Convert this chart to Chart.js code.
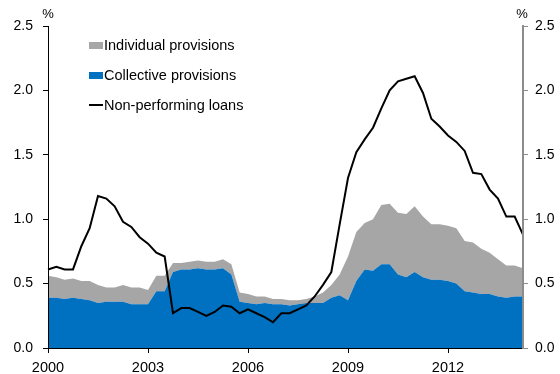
<!DOCTYPE html>
<html>
<head>
<meta charset="utf-8">
<script src="https://cdn.jsdelivr.net/npm/chart.js@4.4.1/dist/chart.umd.min.js"></script>
<style>
    body { margin: 0; background: #fff; }
    #wrap { position: relative; width: 560px; height: 374px; }
    canvas { display: block; }
    .unit { position: absolute; top: 6px; font: 13px "Liberation Sans", Arial, sans-serif; color: #000; transform: translateX(-50%); }
    #legend { position: absolute; left: 89px; top: 30px; font: 14.5px "Liberation Sans", Arial, sans-serif; color: #000; }
    .item { display: flex; align-items: center; height: 30px; white-space: nowrap; }
    .swatch { width: 14px; height: 7px; margin-right: 1px; }
    .swatch.line { height: 2px; }
</style>
</head>
<body>
<div id="wrap">
    <canvas id="chart" width="560" height="374"></canvas>
    <div class="unit" style="left:48px">%</div>
    <div class="unit" style="left:522px">%</div>
    <div id="legend"></div>
</div>
<script>
// quarterly observations, 2000 Q1 - 2014 Q2
const quarters = [];
for (let y = 2000; y <= 2014; y++) {
    for (let q = 1; q <= 4; q++) quarters.push(y + " Q" + q);
}
quarters.length = 58;

const collective = [0.39, 0.39, 0.38, 0.39, 0.38, 0.37, 0.35, 0.36, 0.36, 0.36, 0.34, 0.34, 0.34, 0.44, 0.44,
    0.59, 0.61, 0.61, 0.62, 0.61, 0.61, 0.62, 0.57, 0.36, 0.35, 0.34, 0.35, 0.34, 0.34, 0.33,
    0.34, 0.35, 0.35, 0.35, 0.39, 0.41, 0.37, 0.52, 0.61, 0.60, 0.65, 0.65, 0.57, 0.55, 0.59,
    0.55, 0.53, 0.53, 0.52, 0.50, 0.44, 0.43, 0.42, 0.42, 0.40, 0.39, 0.40, 0.40];
const individual = [0.17, 0.16, 0.15, 0.15, 0.14, 0.15, 0.14, 0.11, 0.11, 0.13, 0.13, 0.13, 0.11, 0.12, 0.12,
    0.07, 0.05, 0.06, 0.06, 0.06, 0.06, 0.07, 0.08, 0.07, 0.07, 0.06, 0.05, 0.04, 0.04, 0.04,
    0.03, 0.03, 0.05, 0.08, 0.10, 0.16, 0.34, 0.38, 0.36, 0.40, 0.46, 0.47, 0.48, 0.49, 0.51,
    0.47, 0.43, 0.43, 0.43, 0.43, 0.39, 0.39, 0.35, 0.32, 0.29, 0.25, 0.24, 0.22];
const nonPerforming = [0.61, 0.63, 0.61, 0.61, 0.79, 0.93, 1.18, 1.16, 1.10, 0.98, 0.94, 0.86, 0.81, 0.74, 0.71,
    0.27, 0.31, 0.31, 0.28, 0.25, 0.28, 0.33, 0.32, 0.27, 0.30, 0.27, 0.24, 0.20, 0.27, 0.27,
    0.30, 0.33, 0.40, 0.49, 0.59, 0.96, 1.32, 1.52, 1.62, 1.71, 1.86, 2.00, 2.07, 2.09, 2.11,
    1.98, 1.78, 1.72, 1.65, 1.60, 1.53, 1.36, 1.35, 1.23, 1.16, 1.02, 1.02, 0.88];

const seriesNames = ["Individual provisions", "Collective provisions", "Non-performing loans"];
const blue = "#0070c0", grey = "#a6a6a6";
const font = { family: "'Liberation Sans', Arial, sans-serif" };

// legend drawn as html, stacked vertically inside the plot
document.getElementById("legend").innerHTML = [
    [seriesNames[0], grey, ""],
    [seriesNames[1], blue, ""],
    [seriesNames[2], "#000", " line"]
].map(([name, c, cls]) => `<div class="item"><span class="swatch${cls}" style="background:${c}"></span>${name}</div>`).join("");

const yAxis = (pos, width, borderColor, borderWidth, pad) => ({
    position: pos, min: 0, max: 2.5,
    ticks: { stepSize: 0.5, color: "#000", padding: pad, font: { ...font, size: 14 }, callback: v => v.toFixed(1) },
    grid: { drawOnChartArea: false, tickLength: 5, color: borderColor },
    border: { color: borderColor, width: borderWidth, z: 1 },
    afterFit: s => { s.width = width; }
});

new Chart(document.getElementById("chart"), {
    type: "line",
    data: {
        labels: quarters,
        datasets: [
            // same order for both areas so they stack by index: collective at the bottom
            { label: seriesNames[1], data: collective, stack: "prov", fill: "origin",
              backgroundColor: blue, borderWidth: 0, pointRadius: 0, order: 2 },
            { label: seriesNames[0], data: individual, stack: "prov", fill: "-1",
              backgroundColor: grey, borderWidth: 0, pointRadius: 0, order: 2 },
            { label: seriesNames[2], data: nonPerforming, stack: "npl", fill: false,
              borderColor: "#000", borderWidth: 2, pointRadius: 0, tension: 0, order: 1 }
        ]
    },
    options: {
        responsive: false, animation: false, devicePixelRatio: 1,
        layout: { padding: { top: 26, left: 0, right: 0, bottom: 0 } },
        plugins: { legend: { display: false }, tooltip: { enabled: false } },
        scales: {
            x: {
                offset: false,
                ticks: { autoSkip: false, maxRotation: 0, color: "#000", padding: 6, font: { ...font, size: 14.5 },
                         callback: v => quarters[v].slice(0, 4) },
                grid: { drawOnChartArea: false, tickLength: 5, color: "#000" },
                border: { color: "#000", width: 1, z: 1 },
                afterBuildTicks: s => { s.ticks = s.ticks.filter(t => t.value % 12 === 0); },
                afterFit: s => { s.height = 26; }
            },
            y: { ...yAxis("left", 48, "#000", 1, 10), stacked: true },
            y1: yAxis("right", 37, "#8c8c8c", 2, 7)
        }
    }
});
</script>
</body>
</html>
